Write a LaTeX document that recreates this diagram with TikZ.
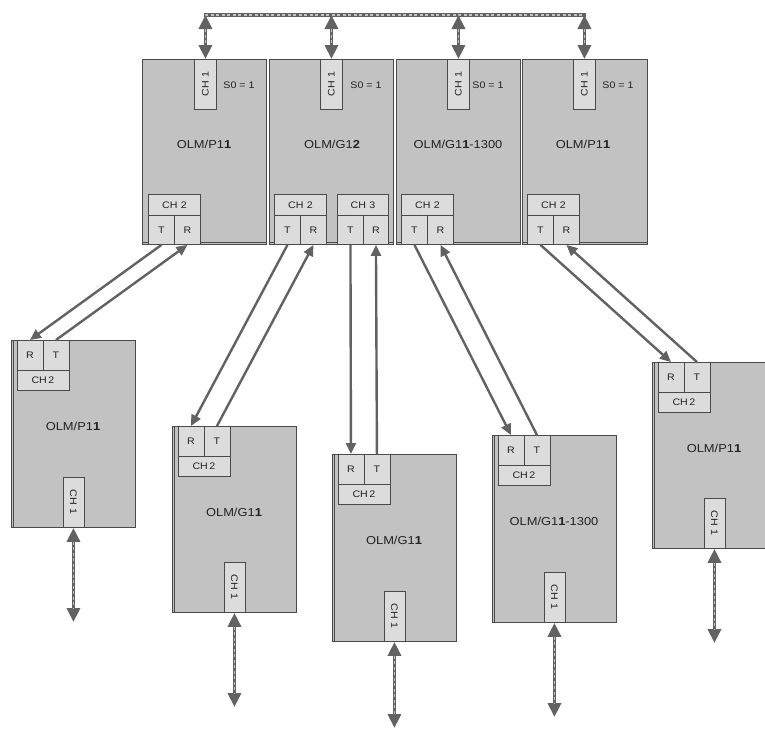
\documentclass[tikz,border=0pt]{standalone}
\usepackage{fontspec}
\setmainfont{Liberation Sans}
\newfontfamily\lab[FakeStretch=1.12]{Liberation Sans}
\usetikzlibrary{arrows.meta}
\definecolor{boxgray}{HTML}{C2C2C2}
\definecolor{cellgray}{HTML}{DCDCDC}
\definecolor{bdr}{HTML}{4A4A4A}
\definecolor{arr}{HTML}{626262}
\definecolor{dashlight}{HTML}{C4C4C4}
\definecolor{txt}{HTML}{222222}
\tikzset{
  box/.style={draw=bdr, fill=boxgray, line width=0.9pt, minimum width=124pt, minimum height=186pt, inner sep=0pt, anchor=north west},
  olmlabel/.style={font=\lab\fontsize{11.5}{13}\selectfont, text=txt, inner sep=0pt},
  smalltext/.style={font=\lab\fontsize{9.5}{11}\selectfont, text=txt, inner sep=0pt},
  cell/.style={draw=bdr, fill=cellgray, line width=0.9pt, inner sep=0pt, anchor=north west, font=\lab\fontsize{9.5}{11}\selectfont, text=txt},
  tabbox/.style={cell, minimum width=21pt, minimum height=50pt},
  link/.style={draw=arr, line width=2.4pt, -{Triangle[length=11pt,width=10pt]}},
  dblbase/.style={draw=arr, line width=3.4pt},
  dblarr/.style={dblbase, {Triangle[length=14pt,width=13pt]}-{Triangle[length=14pt,width=13pt]}},
  dashover/.style={draw=dashlight, line width=1.2pt, dash pattern=on 3pt off 2.5pt},
  dashoverarr/.style={dashover, shorten >=14pt, shorten <=14pt},
}
\begin{document}
\begin{tikzpicture}[x=1pt,y=-1pt]
\useasboundingbox (0,0) rectangle (765,729);
\clip (0,0) rectangle (765,729);

% ---------- top boxes ----------
\node[box, minimum height=185pt] (T1) at (142,59) {};
\node[box, minimum height=185pt] (T2) at (269,59) {};
\node[box, minimum height=185pt] (T3) at (396,59) {};
\node[box, minimum height=185pt, minimum width=125pt] (T4) at (522,59) {};
\foreach \b in {T1,T2,T3,T4}{
  \draw[bdr, line width=0.6pt] ([yshift=2.5pt]\b.south west) -- ([yshift=2.5pt]\b.south east);
}

\node[tabbox, minimum width=22pt] (T1tab) at (194,59) {};
\node[tabbox, minimum width=22pt] (T2tab) at (320,59) {};
\node[tabbox, minimum width=22pt] (T3tab) at (447,59) {};
\node[tabbox, minimum width=22pt] (T4tab) at (573,59) {};
\foreach \b in {T1tab,T2tab,T3tab,T4tab}{
  \node[smalltext, rotate=90] (\b txt) at ([yshift=-25pt]\b.north) {CH 1};
}

\node[smalltext] (s01) at (239,85) {S0 = 1};
\node[smalltext] (s02) at (366,85) {S0 = 1};
\node[smalltext] (s03) at (488,85) {S0 = 1};
\node[smalltext] (s04) at (618,85) {S0 = 1};

\node[olmlabel] (T1lab) at (204,144) {OLM/P1\textbf{1}};
\node[olmlabel] (T2lab) at (332,144) {OLM/G1\textbf{2}};
\node[olmlabel] (T3lab) at (458,144) {OLM/G1\textbf{1}-1300};
\node[olmlabel] (T4lab) at (583,144) {OLM/P1\textbf{1}};

% CH cells of the top boxes
\node[cell, minimum width=52pt, minimum height=21pt] (T1ch) at (148,194) {CH\,\,2};
\node[cell, minimum width=26pt, minimum height=29pt] (T1t) at (148,215) {T};
\node[cell, minimum width=26pt, minimum height=29pt] (T1r) at (174,215) {R};

\node[cell, minimum width=52pt, minimum height=21pt] (T2ch) at (274,194) {CH\,\,2};
\node[cell, minimum width=26pt, minimum height=29pt] (T2t) at (274,215) {T};
\node[cell, minimum width=26pt, minimum height=29pt] (T2r) at (300,215) {R};
\node[cell, minimum width=51pt, minimum height=21pt] (T2chb) at (337,194) {CH\,\,3};
\node[cell, minimum width=26pt, minimum height=29pt] (T2tb) at (337,215) {T};
\node[cell, minimum width=25pt, minimum height=29pt] (T2rb) at (363,215) {R};

\node[cell, minimum width=52pt, minimum height=21pt] (T3ch) at (401,194) {CH\,\,2};
\node[cell, minimum width=26pt, minimum height=29pt] (T3t) at (401,215) {T};
\node[cell, minimum width=26pt, minimum height=29pt] (T3r) at (427,215) {R};

\node[cell, minimum width=52pt, minimum height=21pt] (T4ch) at (527,194) {CH\,\,2};
\node[cell, minimum width=26pt, minimum height=29pt] (T4t) at (527,215) {T};
\node[cell, minimum width=26pt, minimum height=29pt] (T4r) at (553,215) {R};

% ---------- bottom boxes ----------
\foreach \n/\x/\y/\h/\txt in {
  B1/11/340/187/{OLM/P1\textbf{1}},
  B2/172/426/186/{OLM/G1\textbf{1}},
  B3/332/454/187/{OLM/G1\textbf{1}},
  B4/492/435/187/{OLM/G1\textbf{1}-1300},
  B5/652/362/186/{OLM/P1\textbf{1}}}{
  \node[box, minimum height=\h pt] (\n) at (\x,\y) {};
  \draw[bdr, line width=0.6pt] ([xshift=2.5pt]\n.north west) -- ([xshift=2.5pt]\n.south west);
  \node[cell, minimum width=26pt, minimum height=30pt] (\n r) at (\x+5.5,\y) {R};
  \node[cell, minimum width=26pt, minimum height=30pt] (\n t) at (\x+31.5,\y) {T};
  \node[cell, minimum width=52pt, minimum height=20pt] (\n ch) at (\x+5.5,\y+30) {CH\,2};
  \node[olmlabel] (\n lab) at (\x+62,\y+86) {\txt};
  \node[tabbox] (\n tab) at (\x+51.5,\y+\h-50) {};
  \node[smalltext, rotate=-90] (\n tabtxt) at ([yshift=-25pt]\n tab.north) {CH 1};
}

% ---------- T/R links ----------
\draw[link] (T1t.south) -- (B1r.north);
\draw[link] (B1t.north) -- (T1r.south);
\draw[link] (T2t.south) -- (B2r.north);
\draw[link] (B2t.north) -- (T2r.south);
\draw[link] (T2tb.south) -- (B3r.north);
\draw[link] (B3t.north) -- (T2rb.south);
\draw[link] (T3t.south) -- (B4r.north);
\draw[link] (B4t.north) -- (T3r.south);
\draw[link] (T4t.south) -- (B5r.north);
\draw[link] (B5t.north) -- (T4r.south);

% ---------- top dashed bus ----------
\coordinate (h1) at (T1tab.north |- 0,15);
\coordinate (h2) at (T2tab.north |- 0,15);
\coordinate (h3) at (T3tab.north |- 0,15);
\coordinate (h4) at (T4tab.north |- 0,15);
\draw[dblbase] ([xshift=-1.7pt]h1) -- ([xshift=1.7pt]h4);
\draw[dashover] (h1) -- (h4);
\foreach \i in {1,2,3,4}{
  \draw[dblarr] (h\i) -- (T\i tab.north);
  \draw[dashoverarr] (h\i) -- (T\i tab.north);
}

% ---------- bottom dashed arrows ----------
\coordinate (e1) at (B1tab.south |- 0,622);
\coordinate (e2) at (B2tab.south |- 0,707);
\coordinate (e3) at (B3tab.south |- 0,728);
\coordinate (e4) at (B4tab.south |- 0,717);
\coordinate (e5) at (B5tab.south |- 0,643);
\foreach \i in {1,2,3,4,5}{
  \draw[dblarr] (B\i tab.south) -- (e\i);
  \draw[dashoverarr] (B\i tab.south) -- (e\i);
}
\end{tikzpicture}
\end{document}
